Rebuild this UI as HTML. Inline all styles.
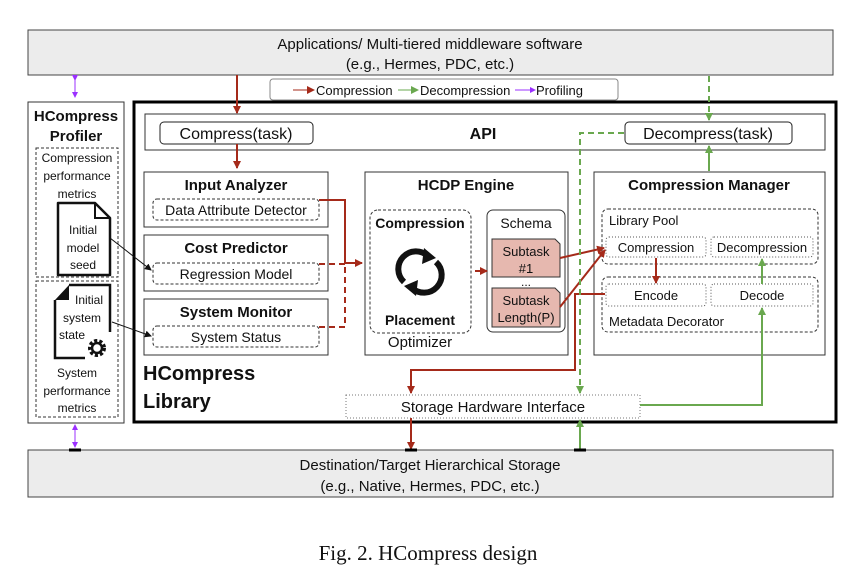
<!DOCTYPE html>
<html><head><meta charset="utf-8"><style>
body{margin:0;background:#fff;width:857px;height:578px;overflow:hidden}
svg text{font-family:"Liberation Sans",sans-serif;fill:#111}
</style></head><body>
<svg width="857" height="578" viewBox="0 0 857 578" xmlns="http://www.w3.org/2000/svg">
<defs>
<marker id="r" markerWidth="8" markerHeight="8" refX="7" refY="4" orient="auto" markerUnits="userSpaceOnUse"><path d="M0,0 L8,4 L0,8z" fill="#a52a1a"/></marker>
<marker id="g" markerWidth="8" markerHeight="8" refX="7" refY="4" orient="auto" markerUnits="userSpaceOnUse"><path d="M0,0 L8,4 L0,8z" fill="#6aa84f"/></marker>
<marker id="p" markerWidth="6" markerHeight="6" refX="5" refY="3" orient="auto" markerUnits="userSpaceOnUse"><path d="M0,0 L6,3 L0,6z" fill="#9b30ff"/></marker>
<marker id="k" markerWidth="7" markerHeight="7" refX="6" refY="3.5" orient="auto" markerUnits="userSpaceOnUse"><path d="M0,0 L7,3.5 L0,7z" fill="#111"/></marker>
</defs>
<!-- top / bottom boxes -->
<rect x="28" y="30" width="805" height="45" fill="#ececec" stroke="#444"/>
<text x="430" y="49" font-size="15" text-anchor="middle">Applications/ Multi-tiered middleware software</text>
<text x="430" y="69" font-size="15" text-anchor="middle">(e.g., Hermes, PDC, etc.)</text>
<rect x="28" y="450" width="805" height="47" fill="#ececec" stroke="#444"/>
<text x="430" y="470" font-size="15" text-anchor="middle">Destination/Target Hierarchical Storage</text>
<text x="430" y="491" font-size="15" text-anchor="middle">(e.g., Native, Hermes, PDC, etc.)</text>
<text x="428" y="560" font-size="21" text-anchor="middle" style="font-family:'Liberation Serif',serif">Fig. 2.  HCompress design</text>
<!-- legend -->
<rect x="270" y="79" width="348" height="21" rx="3" fill="#fff" stroke="#888"/>
<line x1="293" y1="90" x2="314" y2="90" stroke="#a52a1a" marker-end="url(#r)"/>
<text x="316" y="95" font-size="13">Compression</text>
<line x1="398" y1="90" x2="418" y2="90" stroke="#6aa84f" marker-end="url(#g)"/>
<text x="420" y="95" font-size="13">Decompression</text>
<line x1="515" y1="90" x2="535" y2="90" stroke="#9b30ff" marker-end="url(#p)"/>
<text x="536" y="95" font-size="13">Profiling</text>
<!-- profiler -->
<rect x="28" y="102" width="96" height="321" fill="#fff" stroke="#333"/>
<text x="76" y="121" font-size="15" font-weight="bold" text-anchor="middle">HCompress</text>
<text x="76" y="141" font-size="15" font-weight="bold" text-anchor="middle">Profiler</text>
<rect x="36" y="148" width="82" height="129" fill="none" stroke="#333" stroke-dasharray="3,2"/>
<text x="77" y="162" font-size="12" text-anchor="middle">Compression</text>
<text x="77" y="180" font-size="12" text-anchor="middle">performance</text>
<text x="77" y="198" font-size="12" text-anchor="middle">metrics</text>
<path d="M58,203 H95 L110,218 V275 H58z" fill="#fff" stroke="#111" stroke-width="2.5" stroke-linejoin="round"/>
<path d="M95,203 V218 H110" fill="none" stroke="#111" stroke-width="2"/>
<text x="83" y="234" font-size="12" text-anchor="middle">Initial</text>
<text x="83" y="252" font-size="12" text-anchor="middle">model</text>
<text x="83" y="269" font-size="12" text-anchor="middle">seed</text>
<rect x="36" y="281" width="82" height="136" fill="none" stroke="#333" stroke-dasharray="3,2"/>
<path d="M69,285 H110 V332 M55,300 V358 H85" fill="none" stroke="#111" stroke-width="2.5"/>
<path d="M55,300 L69,285 V300z" fill="#111"/>
<text x="89" y="304" font-size="12" text-anchor="middle">Initial</text>
<text x="82" y="322" font-size="12" text-anchor="middle">system</text>
<text x="72" y="339" font-size="12" text-anchor="middle">state</text>
<circle cx="97" cy="348" r="7" fill="none" stroke="#111" stroke-width="4" stroke-dasharray="3,2"/>
<circle cx="97" cy="348" r="5" fill="none" stroke="#111" stroke-width="2.5"/>
<text x="77" y="377" font-size="12" text-anchor="middle">System</text>
<text x="77" y="395" font-size="12" text-anchor="middle">performance</text>
<text x="77" y="412" font-size="12" text-anchor="middle">metrics</text>
<!-- purple -->
<line x1="75" y1="80" x2="75" y2="97" stroke="#9b30ff" marker-end="url(#p)" marker-start="url(#p)"/>
<line x1="75" y1="427" x2="75" y2="447" stroke="#9b30ff" marker-end="url(#p)"/>
<line x1="75" y1="440" x2="75" y2="425" stroke="#9b30ff" marker-end="url(#p)"/>
<!-- library -->
<rect x="134" y="102" width="702" height="320" fill="#fff" stroke="#000" stroke-width="3"/>
<rect x="145" y="114" width="680" height="36" fill="#fff" stroke="#333"/>
<rect x="160" y="122" width="153" height="22" rx="4" fill="#fff" stroke="#222"/>
<text x="236" y="139" font-size="16" text-anchor="middle">Compress(task)</text>
<text x="483" y="139" font-size="16" font-weight="bold" text-anchor="middle">API</text>
<rect x="625" y="122" width="167" height="22" rx="4" fill="#fff" stroke="#222"/>
<text x="708" y="139" font-size="16" text-anchor="middle">Decompress(task)</text>
<!-- left stack -->
<rect x="144" y="172" width="184" height="55" fill="#fff" stroke="#333"/>
<text x="236" y="190" font-size="15" font-weight="bold" text-anchor="middle">Input Analyzer</text>
<rect x="153" y="199" width="166" height="21" rx="4" fill="none" stroke="#333" stroke-dasharray="3,2"/>
<text x="236" y="215" font-size="14" text-anchor="middle">Data Attribute Detector</text>
<rect x="144" y="235" width="184" height="56" fill="#fff" stroke="#333"/>
<text x="236" y="253" font-size="15" font-weight="bold" text-anchor="middle">Cost Predictor</text>
<rect x="153" y="263" width="166" height="21" rx="4" fill="none" stroke="#333" stroke-dasharray="3,2"/>
<text x="236" y="279" font-size="14" text-anchor="middle">Regression Model</text>
<rect x="144" y="299" width="184" height="56" fill="#fff" stroke="#333"/>
<text x="236" y="317" font-size="15" font-weight="bold" text-anchor="middle">System Monitor</text>
<rect x="153" y="326" width="166" height="21" rx="4" fill="none" stroke="#333" stroke-dasharray="3,2"/>
<text x="236" y="342" font-size="14" text-anchor="middle">System Status</text>
<text x="143" y="380" font-size="20" font-weight="bold">HCompress</text>
<text x="143" y="408" font-size="20" font-weight="bold">Library</text>
<line x1="110" y1="238" x2="151" y2="270" stroke="#111" marker-end="url(#k)"/>
<line x1="112" y1="322" x2="151" y2="336" stroke="#111" marker-end="url(#k)"/>
<!-- HCDP -->
<rect x="365" y="172" width="203" height="183" fill="#fff" stroke="#333"/>
<text x="466" y="190" font-size="15" font-weight="bold" text-anchor="middle">HCDP Engine</text>
<rect x="370" y="210" width="101" height="123" rx="8" fill="none" stroke="#333" stroke-dasharray="3,2"/>
<text x="420" y="228" font-size="14" font-weight="bold" text-anchor="middle">Compression</text>
<text x="420" y="325" font-size="14" font-weight="bold" text-anchor="middle">Placement</text>
<text x="420" y="347" font-size="15" text-anchor="middle">Optimizer</text>
<g fill="none" stroke="#111" stroke-width="6">
<path d="M404,282 A17,17 0 0 1 428,256"/>
<path d="M436,262 A17,17 0 0 1 412,288"/>
</g>
<path d="M424,248 L436,258 L422,264z M416,296 L404,286 L418,280z" fill="#111"/>
<rect x="487" y="210" width="78" height="122" rx="6" fill="#fff" stroke="#333"/>
<text x="526" y="228" font-size="14" text-anchor="middle">Schema</text>
<path d="M492,239 H555 L560,244 V277 H492z" fill="#e6b8af" stroke="#333"/>
<text x="526" y="256" font-size="13" text-anchor="middle">Subtask</text>
<text x="526" y="273" font-size="13" text-anchor="middle">#1</text>
<text x="526" y="286" font-size="12" text-anchor="middle">...</text>
<path d="M492,288 H555 L560,293 V327 H492z" fill="#e6b8af" stroke="#333"/>
<text x="526" y="305" font-size="13" text-anchor="middle">Subtask</text>
<text x="526" y="322" font-size="13" text-anchor="middle">Length(P)</text>
<!-- compression manager -->
<rect x="594" y="172" width="231" height="183" fill="#fff" stroke="#333"/>
<text x="709" y="190" font-size="15" font-weight="bold" text-anchor="middle">Compression Manager</text>
<rect x="602" y="209" width="216" height="55" rx="6" fill="none" stroke="#333" stroke-dasharray="3,2"/>
<text x="609" y="225" font-size="13">Library Pool</text>
<rect x="606" y="237" width="100" height="20" rx="3" fill="none" stroke="#555" stroke-dasharray="1,2"/>
<text x="656" y="252" font-size="13" text-anchor="middle">Compression</text>
<rect x="711" y="237" width="102" height="20" rx="3" fill="none" stroke="#555" stroke-dasharray="1,2"/>
<text x="762" y="252" font-size="13" text-anchor="middle">Decompression</text>
<rect x="602" y="277" width="216" height="55" rx="6" fill="none" stroke="#333" stroke-dasharray="3,2"/>
<rect x="606" y="284" width="100" height="22" rx="3" fill="none" stroke="#555" stroke-dasharray="1,2"/>
<text x="656" y="300" font-size="13" text-anchor="middle">Encode</text>
<rect x="711" y="284" width="102" height="22" rx="3" fill="none" stroke="#555" stroke-dasharray="1,2"/>
<text x="762" y="300" font-size="13" text-anchor="middle">Decode</text>
<text x="609" y="326" font-size="13">Metadata Decorator</text>
<!-- storage interface -->
<rect x="346" y="395" width="294" height="23" fill="#fff" stroke="#777" stroke-dasharray="1,2"/>
<text x="493" y="412" font-size="15" text-anchor="middle">Storage Hardware Interface</text>
<!-- red arrows -->
<g stroke="#a52a1a" stroke-width="2" fill="none">
<line x1="237" y1="75" x2="237" y2="113" marker-end="url(#r)"/>
<line x1="237" y1="144" x2="237" y2="168" marker-end="url(#r)"/>
<path d="M319,200 H345 V263 H362" marker-end="url(#r)"/>
<path d="M319,264 H345" stroke-dasharray="6,4"/>
<path d="M319,327 H345 V264" stroke-dasharray="6,4"/>
<line x1="475" y1="271" x2="487" y2="271" marker-end="url(#r)"/>
<line x1="560" y1="258" x2="604" y2="248" marker-end="url(#r)"/>
<line x1="560" y1="307" x2="605" y2="250" marker-end="url(#r)"/>
<line x1="656" y1="258" x2="656" y2="283" marker-end="url(#r)"/>
<path d="M605,294 H575 V370 H411 V393" marker-end="url(#r)"/>
<line x1="411" y1="418" x2="411" y2="449" marker-end="url(#r)"/>
</g>
<!-- green arrows -->
<g stroke="#6aa84f" stroke-width="2" fill="none">
<line x1="709" y1="76" x2="709" y2="120" stroke-dasharray="6,4" marker-end="url(#g)"/>
<line x1="709" y1="171" x2="709" y2="146" marker-end="url(#g)"/>
<path d="M624,133 H580 V393" stroke-dasharray="6,4" marker-end="url(#g)"/>
<path d="M640,405 H762 V308" marker-end="url(#g)"/>
<line x1="762" y1="284" x2="762" y2="259" marker-end="url(#g)"/>
<line x1="580" y1="450" x2="580" y2="420" marker-end="url(#g)"/>
</g>
<g stroke="#000" stroke-width="3"><line x1="69" y1="450" x2="81" y2="450"/><line x1="405" y1="450" x2="417" y2="450"/><line x1="574" y1="450" x2="586" y2="450"/></g>
</svg>
</body></html>
